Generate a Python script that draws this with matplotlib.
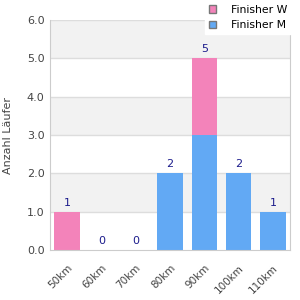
import numpy as np
from matplotlib import pyplot as plt
from matplotlib.patches import Patch

categories = ['50km', '60km', '70km', '80km', '90km', '100km', '110km']
men = [0, 0, 0, 2, 3, 2, 1]
women = [1, 0, 0, 0, 2, 0, 0]
totals = [m + w for m, w in zip(men, women)]

pink = '#f383ba'
blue = '#62a9f4'
navy = '#1c1c8c'

fig = plt.figure(figsize=(3, 3), dpi=100)
ax = fig.add_axes([50/300, 50/300, 240/300, 230/300])

x = np.arange(len(categories))
ax.set_xlim(-0.5, len(categories) - 0.5)
ax.set_ylim(0, 6)

# alternating bands
for lo in [1, 3, 5]:
    ax.axhspan(lo, lo + 1, color='#f2f2f2', zorder=0, lw=0)
for y in range(1, 7):
    ax.axhline(y, color='#dddddd', lw=1, zorder=1)

ax.bar(x, men, width=0.74, color=blue, zorder=2)
ax.bar(x, women, width=0.74, bottom=men, color=pink, zorder=2)

for xi, t in zip(x, totals):
    ax.annotate(str(t), (xi, t), xytext=(0, 3), textcoords='offset points',
                ha='center', va='bottom', fontsize=8, color=navy)

ax.set_yticks(range(7))
ax.set_yticklabels(['%.1f' % v for v in range(7)], fontsize=8, color='#444444')
ax.set_xticks(x)
ax.set_xticklabels(categories, rotation=45, ha='right', rotation_mode='anchor',
                   fontsize=7.5, color='#444444')
ax.tick_params(axis='y', length=0, pad=4)
ax.tick_params(axis='x', length=0, pad=9)
ax.set_ylabel('Anzahl Läufer', fontsize=8, color='#444444', labelpad=10)

ax.spines['top'].set_visible(False)
for s in ['left', 'bottom', 'right']:
    ax.spines[s].set_color('#cccccc')

handles = [Patch(facecolor=pink, edgecolor='#777777', label='Finisher W'),
           Patch(facecolor=blue, edgecolor='#777777', label='Finisher M')]
leg = fig.legend(handles=handles, loc='upper right', bbox_to_anchor=(0.99, 1.015),
                 fontsize=7.8, frameon=True, fancybox=False, edgecolor='white',
                 handlelength=0.7, handleheight=0.7, handletextpad=1.4,
                 labelspacing=0.5, borderpad=0.35)
leg.get_frame().set_facecolor('white')
leg.get_frame().set_alpha(1)

fig.savefig('out.png', dpi=100)
